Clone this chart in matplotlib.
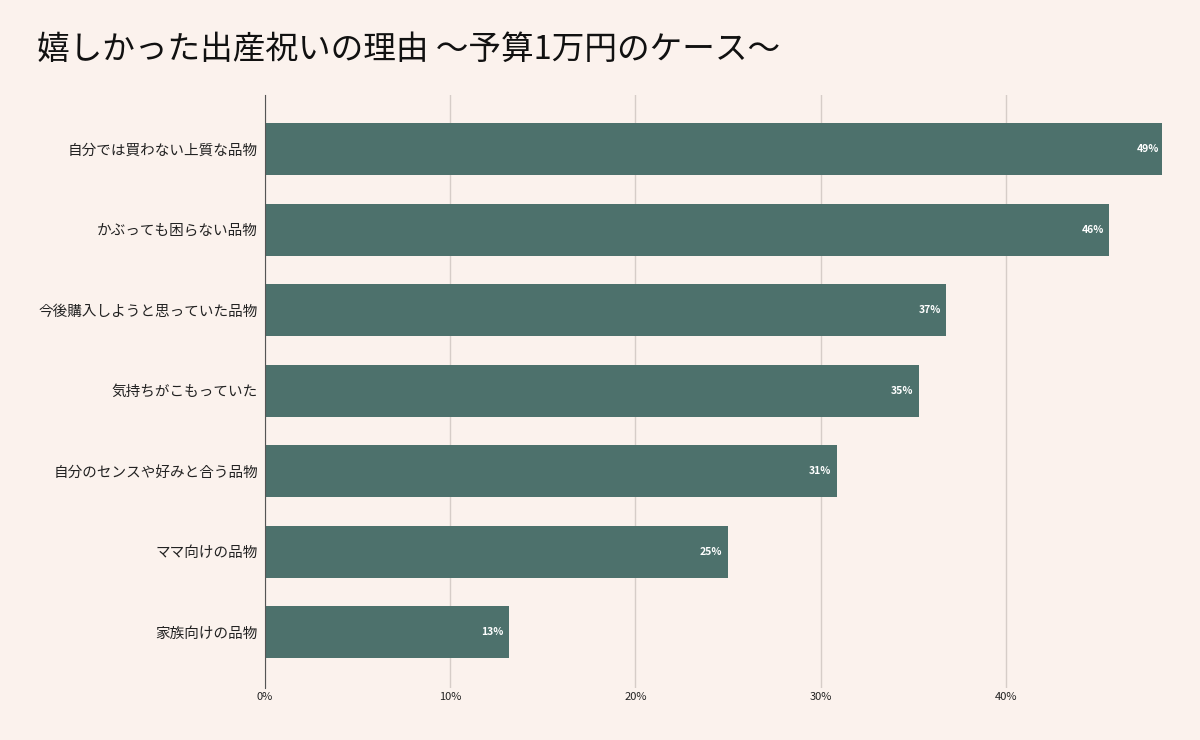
import matplotlib.pyplot as plt
import numpy as np

plt.rcParams['font.family'] = ['Noto Sans CJK JP', 'DejaVu Sans']

# data
categories = ['自分では買わない上質な品物', 'かぶっても困らない品物', '今後購入しようと思っていた品物',
              '気持ちがこもっていた', '自分のセンスや好みと合う品物', 'ママ向けの品物', '家族向けの品物']
values = [48.6, 45.6, 36.8, 35.3, 30.9, 25.0, 13.2]
xticks = [0, 10, 20, 30, 40]

bg = '#fbf2ed'
bar_color = '#4d716c'

fig = plt.figure(figsize=(12, 7.4), dpi=100, facecolor=bg)
ax = fig.add_axes([0.2208, 0.0703, 0.9685 - 0.2208, 0.8716 - 0.0703], facecolor=bg)

y = np.arange(len(categories))
ax.barh(y, values, height=0.646, color=bar_color, zorder=3)
for yi, v in zip(y, values):
    ax.text(v - 0.3, yi, f'{v:.0f}%', ha='right', va='center', color='white',
            fontsize=7.5, fontweight='bold', zorder=4)

ax.set_ylim(6.69, -0.67)
ax.set_xlim(0, 48.45)
ax.set_yticks(y)
ax.set_yticklabels(categories, fontsize=10.5, color='#222222')
ax.set_xticks(xticks)
ax.set_xticklabels([f'{t}%' for t in xticks], fontsize=8, color='#222222')
ax.tick_params(axis='y', length=0, pad=5)
ax.tick_params(axis='x', length=0, pad=3)
ax.grid(axis='x', color='#d6cdc8', linewidth=1, zorder=0)
for s in ['top', 'right', 'bottom']:
    ax.spines[s].set_visible(False)
ax.spines['left'].set_color('#555555')
ax.spines['left'].set_zorder(5)

fig.text(0.031, 0.932, '嬉しかった出産祝いの理由 〜予算1万円のケース〜', fontsize=23.5,
         ha='left', va='center', color='#111111')

fig.savefig('out.png', facecolor=bg)
